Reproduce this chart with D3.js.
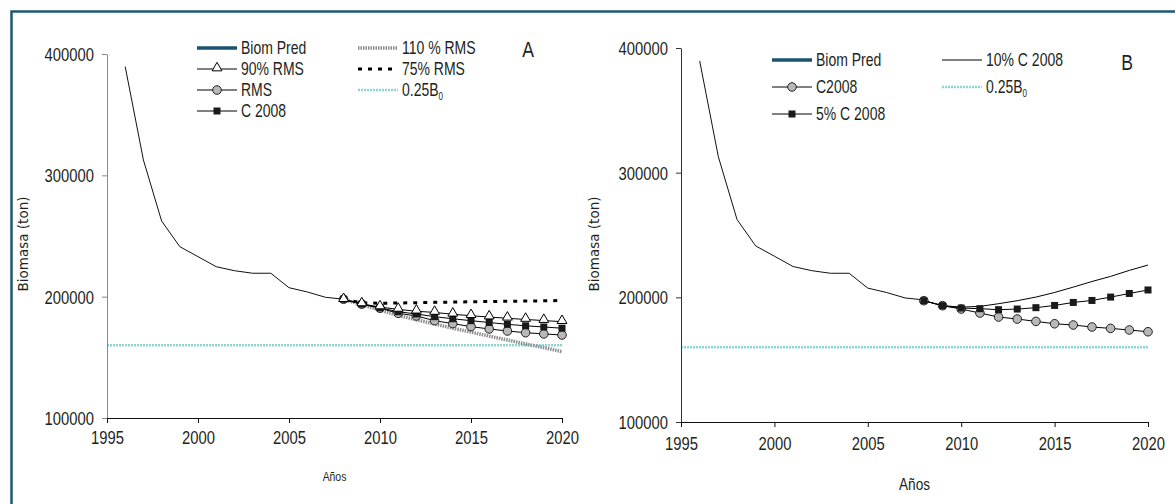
<!DOCTYPE html>
<head>
  <meta charset="utf-8">
  <title>Biomasa proyectada</title>
  <script src="https://d3js.org/d3.v7.min.js"></script>
  <style>
    body { margin:0; background:#fff; }
    svg { display:block; }
    text { fill:#231f20; }
  </style>
</head>
<body>
  <svg width="1175" height="504"></svg>
  <script>
    // historical predicted biomass
    var histYears = [1996, 1997, 1998, 1999, 2000, 2001, 2002, 2003, 2004, 2005, 2006, 2007, 2008];
    var biomPred = [389600, 312700, 262400, 241200, 233000, 224700, 221400, 219300, 219300, 207400, 203900, 199500, 197900];

    // projections
    var projYears = [2008, 2009, 2010, 2011, 2012, 2013, 2014, 2015, 2016, 2017, 2018, 2019, 2020];
    var rms90  = [197500, 194000, 191500, 189500, 188000, 187000, 185500, 184300, 183200, 182200, 181200, 180300, 179400];
    var rms    = [197900, 193800, 190500, 186300, 184100, 180200, 177800, 175300, 173400, 171700, 170300, 169300, 168400];
    var c2008A = [197900, 193900, 190800, 187600, 185700, 183500, 181800, 180200, 178700, 177200, 176000, 175000, 174000];
    var rms110 = [197500, 193500, 189000, 184500, 181000, 177500, 174000, 170800, 167500, 164300, 161000, 158000, 154700];
    var rms75  = [197900, 195000, 194500, 194800, 195000, 195300, 195500, 195800, 196000, 196200, 196400, 196600, 196800];

    var c2008B = [197300, 193300, 190600, 187400, 184200, 182600, 180700, 178800, 177800, 176200, 175100, 173800, 172400];
    var c5     = [197300, 193300, 191400, 190900, 190100, 190600, 191700, 193500, 195900, 197500, 200200, 203100, 205900];
    var c10    = [197300, 193300, 192200, 192700, 194900, 197300, 200200, 203900, 208200, 212700, 216800, 221600, 225900];

    var b025 = 160000;
    var yTicks = [100000, 200000, 300000, 400000];
    var xTicks = [1995, 2000, 2005, 2010, 2015, 2020];

    var svg = d3.select('svg');
    var font = '"Liberation Sans", Arial, sans-serif';
    var squeeze = 0.8; // narrow look of the original type

    // frame (only top and left edges visible)
    svg.append('rect')
      .attr('x', 11.5).attr('y', 11.5)
      .attr('width', 1300).attr('height', 600)
      .attr('fill', 'none')
      .attr('stroke', '#1d5878')
      .attr('stroke-width', 2.5);

    var styles = {
      biom:   {stroke: '#1a5270', width: 3.5},
      rms90:  {stroke: '#000', width: 1, marker: 'tri'},
      rms:    {stroke: '#000', width: 1, marker: 'circle'},
      c2008:  {stroke: '#000', width: 1, marker: 'square'},
      rms110: {stroke: '#8c8c8c', width: 3.5, dash: '1.5,1'},
      rms75:  {stroke: '#000', width: 3, dash: '4,6'},
      b025:   {stroke: '#8fd5d5', width: 2.5, dash: '2,1'},
      c10:    {stroke: '#000', width: 1}
    };

    function marker(g, type, x, y) {
      if (type == 'circle') {
        g.append('circle').attr('cx', x).attr('cy', y).attr('r', 4.3)
          .attr('fill', '#b8b8b8').attr('stroke', '#222').attr('stroke-width', 1);
      } else if (type == 'square') {
        g.append('rect').attr('x', x - 3.5).attr('y', y - 3.5).attr('width', 7).attr('height', 7)
          .attr('fill', '#1a1a1a');
      } else if (type == 'tri') {
        g.append('path').attr('d', d3.symbol().type(d3.symbolTriangle).size(42)())
          .attr('transform', 'translate(' + [x, y - 1] + ')')
          .attr('fill', '#fff').attr('stroke', '#000').attr('stroke-width', 1);
      }
    }

    // narrow text: place at (x,y) and squeeze horizontally
    function narrowText(x, y, size, anchor) {
      return svg.append('text')
        .attr('transform', 'translate(' + [x, y] + ') scale(' + squeeze + ',1)')
        .attr('text-anchor', anchor || 'start')
        .attr('font-family', font).attr('font-size', size);
    }

    function drawPanel(p) {
      var xScale = d3.scaleLinear().domain([1995, 2020]).range([p.x0, p.x1]);
      var yScale = d3.scaleLinear().domain([100000, 400000]).range([p.y0, p.y1]);
      var g = svg.append('g');

      var line = d3.line()
        .x(function(d) { return xScale(d[0]); })
        .y(function(d) { return yScale(d[1]); });

      // reference line
      var s = styles.b025;
      g.append('path')
        .attr('d', line([[1995, b025], [2020, b025]]))
        .attr('fill', 'none').attr('stroke', s.stroke)
        .attr('stroke-width', s.width).attr('stroke-dasharray', s.dash);

      // history
      g.append('path')
        .attr('d', line(histYears.map(function(yr, i) { return [yr, biomPred[i]]; })))
        .attr('fill', 'none').attr('stroke', '#111').attr('stroke-width', 1);

      p.series.forEach(function(sr) {
        var st = styles[sr.style];
        var pts = projYears.map(function(yr, i) { return [yr, sr.values[i]]; });
        g.append('path')
          .attr('d', line(pts))
          .attr('fill', 'none').attr('stroke', st.stroke)
          .attr('stroke-width', st.width)
          .attr('stroke-dasharray', st.dash || null);
        if (st.marker) {
          pts.forEach(function(d) { marker(g, st.marker, xScale(d[0]), yScale(d[1])); });
        }
      });

      // axes
      var yAxis = d3.axisLeft(yScale).tickValues(yTicks).tickSize(5).tickSizeOuter(0)
        .tickFormat(d3.format('d')).tickPadding(8);
      var ya = svg.append('g').attr('transform', 'translate(' + [p.x0, 0] + ')').call(yAxis);
      ya.select('.domain').attr('stroke', p.yAxisColor);
      ya.selectAll('line').attr('stroke', p.yAxisColor);
      ya.selectAll('text')
        .attr('font-family', font).attr('font-size', 18.5).attr('dy', '0.36em')
        .attr('x', -13 / squeeze)
        .attr('transform', 'scale(' + squeeze + ',1)');

      var xAxis = d3.axisBottom(xScale).tickValues(xTicks).tickSize(5).tickSizeOuter(0)
        .tickFormat(d3.format('d')).tickPadding(p.xPad);
      var xa = svg.append('g').attr('transform', 'translate(' + [0, p.y0] + ')').call(xAxis);
      xa.select('.domain').attr('stroke', '#111');
      xa.selectAll('line').attr('stroke', '#111');
      xa.selectAll('text')
        .attr('font-family', font).attr('font-size', 18.5)
        .attr('transform', 'scale(' + squeeze + ',1)');

      // axis titles
      svg.append('text')
        .attr('transform', 'translate(' + [p.yLabelX, 244] + ') rotate(-90)')
        .attr('text-anchor', 'middle')
        .attr('font-family', '"DejaVu Sans", Verdana, sans-serif')
        .attr('font-size', 13.5)
        .text('Biomasa (ton)');
      narrowText(xScale(2007.5), p.xLabelY, p.xLabelSize, 'middle').text('Años');

      // panel letter
      narrowText(p.letter[1], p.letter[2], 22, 'middle').text(p.letter[0]);

      // legend
      p.legend.forEach(function(it) {
        var st = styles[it.style];
        var lg = svg.append('g');
        var x = it.col == 0 ? p.legX[0] : p.legX[1];
        var y = p.legY + it.row * p.legStep;
        lg.append('line')
          .attr('x1', x).attr('x2', x + 40).attr('y1', y).attr('y2', y)
          .attr('stroke', st.stroke).attr('stroke-width', st.width)
          .attr('stroke-dasharray', st.dash || null);
        if (st.marker) marker(lg, st.marker, x + 20, y);
        var t = narrowText(x + 44, y + 6, 17.5);
        if (it.label == '0.25B0') {
          t.text('0.25B');
          t.append('tspan').attr('font-size', 10).attr('dy', 4).text('0');
        } else {
          t.text(it.label);
        }
      });
    }

    drawPanel({
      x0: 107, x1: 562, y0: 418, y1: 54,
      yAxisColor: '#8a8a8a', xPad: 8,
      yLabelX: 28, xLabelY: 481, xLabelSize: 13,
      letter: ['A', 528, 57],
      legX: [197, 358], legY: 48, legStep: 21,
      series: [
        {style: 'rms110', values: rms110},
        {style: 'rms75', values: rms75},
        {style: 'rms', values: rms},
        {style: 'c2008', values: c2008A},
        {style: 'rms90', values: rms90}
      ],
      legend: [
        {label: 'Biom Pred', style: 'biom', col: 0, row: 0},
        {label: '90% RMS', style: 'rms90', col: 0, row: 1},
        {label: 'RMS', style: 'rms', col: 0, row: 2},
        {label: 'C 2008', style: 'c2008', col: 0, row: 3},
        {label: '110 % RMS', style: 'rms110', col: 1, row: 0},
        {label: '75% RMS', style: 'rms75', col: 1, row: 1},
        {label: '0.25B0', style: 'b025', col: 1, row: 2}
      ]
    });

    drawPanel({
      x0: 681, x1: 1148, y0: 422, y1: 48,
      yAxisColor: '#333', xPad: 10,
      yLabelX: 599, xLabelY: 490, xLabelSize: 17,
      letter: ['B', 1127, 70],
      legX: [772, 942], legY: 60, legStep: 27,
      series: [
        {style: 'c10', values: c10},
        {style: 'rms', values: c2008B},
        {style: 'c2008', values: c5}
      ],
      legend: [
        {label: 'Biom Pred', style: 'biom', col: 0, row: 0},
        {label: 'C2008', style: 'rms', col: 0, row: 1},
        {label: '5% C 2008', style: 'c2008', col: 0, row: 2},
        {label: '10% C 2008', style: 'c10', col: 1, row: 0},
        {label: '0.25B0', style: 'b025', col: 1, row: 1}
      ]
    });
  </script>
</body>
